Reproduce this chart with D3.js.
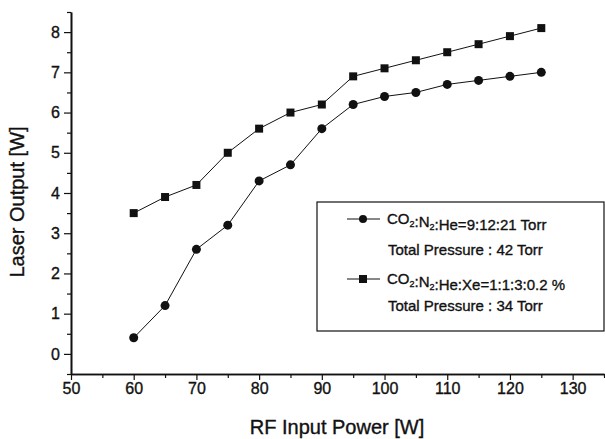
<html>
<head>
<script src="https://d3js.org/d3.v7.min.js"></script>
<style>
    body { margin: 0; background: white; }
    text { font-family: "Liberation Sans", Arial, sans-serif; fill: #111; stroke: #111; stroke-width: 0.35px; }
</style>
</head>
<body>
<svg id="plot" width="605" height="439"></svg>
<script>
    // RF input power (W)
    const power = [60, 65, 70, 75, 80, 85, 90, 95, 100, 105, 110, 115, 120, 125];
    // CO2:N2:He = 9:12:21 Torr (circles)
    const outputHe = [0.4, 1.2, 2.6, 3.2, 4.3, 4.7, 5.6, 6.2, 6.4, 6.5, 6.7, 6.8, 6.9, 7.0];
    // CO2:N2:He:Xe = 1:1:3:0.2 % (squares)
    const outputXe = [3.5, 3.9, 4.2, 5.0, 5.6, 6.0, 6.2, 6.9, 7.1, 7.3, 7.5, 7.7, 7.9, 8.1];
    const xTicks = [50, 60, 70, 80, 90, 100, 110, 120, 130];
    const yTicks = [0, 1, 2, 3, 4, 5, 6, 7, 8];

    const svg = d3.select("#plot");

    const x = d3.scaleLinear().domain([50, 135]).range([71, 604]);
    const y = d3.scaleLinear().domain([-0.5, 8.5]).range([374, 12]);

    // axes
    const xAxis = d3.axisBottom(x).tickValues(xTicks).tickSize(6).tickSizeOuter(0).tickPadding(3);
    const xMinor = d3.axisBottom(x).tickValues(d3.range(55, 136, 10)).tickSize(4).tickSizeOuter(0).tickFormat("");
    const yAxis = d3.axisLeft(y).tickValues(yTicks).tickSize(7).tickSizeOuter(0).tickPadding(4);
    const yMinor = d3.axisLeft(y).tickValues(d3.range(-0.5, 8.6, 1)).tickSize(4).tickSizeOuter(0).tickFormat("");

    function styleAxis(g) {
        g.select(".domain").attr("stroke", "#111").attr("stroke-width", 1.6);
        g.selectAll(".tick line").attr("stroke", "#111").attr("stroke-width", 1.2);
        g.selectAll(".tick text").attr("font-size", 16).attr("fill", "#111")
            .attr("font-family", "'Liberation Sans', Arial, sans-serif");
    }

    svg.append("g").attr("transform", "translate(0,374)").call(xMinor).call(styleAxis);
    svg.append("g").attr("transform", "translate(0,374)").call(xAxis).call(styleAxis);
    svg.append("g").attr("transform", "translate(71,0)").call(yMinor).call(styleAxis);
    svg.append("g").attr("transform", "translate(71,0)").call(yAxis).call(styleAxis);

    // axis titles
    svg.append("text")
        .attr("x", 337).attr("y", 434)
        .attr("text-anchor", "middle")
        .attr("font-size", 20)
        .text("RF Input Power [W]");

    svg.append("text")
        .attr("transform", "translate(24,202) rotate(-90)")
        .attr("text-anchor", "middle")
        .attr("font-size", 20)
        .text("Laser Output [W]");

    // series
    const line = d3.line().x(d => x(d[0])).y(d => y(d[1]));
    const dataHe = power.map((p, i) => [p, outputHe[i]]);
    const dataXe = power.map((p, i) => [p, outputXe[i]]);

    svg.append("path").datum(dataHe).attr("d", line)
        .attr("fill", "none").attr("stroke", "#111").attr("stroke-width", 1);
    svg.append("path").datum(dataXe).attr("d", line)
        .attr("fill", "none").attr("stroke", "#111").attr("stroke-width", 1);

    svg.selectAll("circle.pt").data(dataHe).join("circle")
        .attr("class", "pt")
        .attr("cx", d => x(d[0])).attr("cy", d => y(d[1]))
        .attr("r", 4.5).attr("fill", "#111");

    svg.selectAll("rect.pt").data(dataXe).join("rect")
        .attr("class", "pt")
        .attr("x", d => x(d[0]) - 4).attr("y", d => y(d[1]) - 4)
        .attr("width", 8).attr("height", 8).attr("fill", "#111");

    // legend
    const legend = svg.append("g");
    legend.append("rect")
        .attr("x", 317).attr("y", 202).attr("width", 287).attr("height", 129)
        .attr("fill", "white").attr("stroke", "#111").attr("stroke-width", 1.2);

    function formula(g, yPos, parts) {
        const t = g.append("text").attr("x", 387).attr("y", yPos).attr("font-size", 15);
        parts.forEach(p => {
            if (p.sub) {
                t.append("tspan").attr("font-size", 9).attr("dy", 3).text(p.s);
                t.append("tspan").attr("dy", -3).text("");
            } else {
                t.append("tspan").text(p.s);
            }
        });
    }

    // row 1
    legend.append("line").attr("x1", 347).attr("x2", 380).attr("y1", 219).attr("y2", 219)
        .attr("stroke", "#111").attr("stroke-width", 1);
    legend.append("circle").attr("cx", 363).attr("cy", 219).attr("r", 4).attr("fill", "#111");
    formula(legend, 224, [{s: "CO"}, {s: "2", sub: true}, {s: ":N"}, {s: "2", sub: true}, {s: ":He=9:12:21 Torr"}]);
    legend.append("text").attr("x", 388).attr("y", 255).attr("font-size", 15).text("Total Pressure : 42 Torr");

    // row 2
    legend.append("line").attr("x1", 347).attr("x2", 380).attr("y1", 279).attr("y2", 279)
        .attr("stroke", "#111").attr("stroke-width", 1);
    legend.append("rect").attr("x", 359).attr("y", 275).attr("width", 8).attr("height", 8).attr("fill", "#111");
    formula(legend, 284, [{s: "CO"}, {s: "2", sub: true}, {s: ":N"}, {s: "2", sub: true}, {s: ":He:Xe=1:1:3:0.2 %"}]);
    legend.append("text").attr("x", 388).attr("y", 311).attr("font-size", 15).text("Total Pressure : 34 Torr");
</script>
</body>
</html>
